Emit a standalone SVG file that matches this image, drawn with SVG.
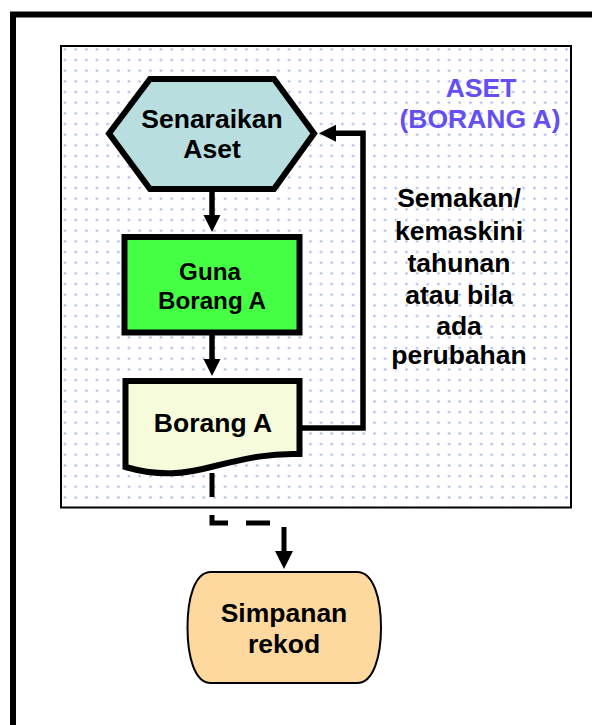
<svg xmlns="http://www.w3.org/2000/svg" width="592" height="725" viewBox="0 0 592 725">
  <style>
    .t { font-family: "Liberation Sans", Arial, sans-serif; font-weight: bold; text-anchor: middle; fill: #000; }
    .big { font-size: 26.5px; }
    .mid { font-size: 24.2px; }
    .blue { fill: #664ff0; }
    .node { stroke: #000; stroke-width: 6; stroke-linejoin: miter; }
    .conn { fill: none; stroke: #000; stroke-width: 5.5; }
    .dash { stroke-dasharray: 24 18; stroke-width: 5; }
  </style>
  <defs>
    <pattern id="dots" patternUnits="userSpaceOnUse" x="59.67" y="44" width="10.67" height="10.67">
      <circle cx="5.33" cy="5.33" r="1.25" fill="#a9b5e8"/>
    </pattern>
    <marker id="arr" markerUnits="userSpaceOnUse" markerWidth="20" markerHeight="20" refX="1" refY="8.5" orient="auto">
      <path d="M0,0 L17,8.5 L0,17 Z" fill="#000"/>
    </marker>
    <marker id="arr2" markerUnits="userSpaceOnUse" markerWidth="20" markerHeight="20" refX="1" refY="9" orient="auto">
      <path d="M0,0 L18,9 L0,18 Z" fill="#000"/>
    </marker>
  </defs>

  <rect width="592" height="725" fill="#fff"/>
  <!-- outer frame -->
  <path d="M13,725 V14.5 H592" fill="none" stroke="#000" stroke-width="6"/>

  <!-- inner panel -->
  <g id="panel">
    <rect x="61" y="46" width="510" height="461.5" fill="#fff"/>
    <rect x="61" y="46" width="510" height="461.5" fill="url(#dots)" stroke="#000" stroke-width="2"/>
  </g>

  <g id="title">
    <text class="t big blue" x="481" y="97">ASET</text>
    <text class="t big blue" x="480" y="128">(BORANG A)</text>
  </g>

  <g id="note">
    <text class="t big" x="459" y="207">Semakan/</text>
    <text class="t big" x="459" y="239.5">kemaskini</text>
    <text class="t big" x="459" y="271.5">tahunan</text>
    <text class="t big" x="459" y="303.5">atau bila</text>
    <text class="t big" x="459" y="335">ada</text>
    <text class="t big" x="459" y="364">perubahan</text>
  </g>

  <g id="connectors">
    <path class="conn" d="M212,192 V216" marker-end="url(#arr)"/>
    <path class="conn" d="M212,335 V360" marker-end="url(#arr)"/>
    <path class="conn" d="M302,428 H363 V133.3 H335" marker-end="url(#arr)"/>
    <path class="conn dash" d="M212,473 V523 H284 V552" marker-end="url(#arr2)"/>
  </g>

  <g id="senaraikan">
    <polygon class="node" points="109,133.5 150,79 274,79 314,133.5 274,189 150,189" fill="#b8dee0"/>
    <text class="t big" x="212" y="128">Senaraikan</text>
    <text class="t big" x="212" y="158">Aset</text>
  </g>

  <g id="guna">
    <rect class="node" x="124.5" y="237" width="175" height="95.5" fill="#44ff44"/>
    <text class="t mid" x="210" y="280">Guna</text>
    <text class="t mid" x="212" y="309">Borang A</text>
  </g>

  <g id="borang">
    <path class="node" d="M125.5,381 H299.5 V454 C270,453 248,458 215,466 C185,474 160,477 125.5,467 Z" fill="#f6fbdc"/>
    <text class="t big" x="213" y="431.5">Borang A</text>
  </g>

  <g id="simpanan">
    <path d="M211,572 H357 C374,572 381,600 381,627.5 C381,655 374,683 357,683 H211 C194,683 187.5,655 187.5,627.5 C187.5,600 194,572 211,572 Z" fill="#fdd9a0" stroke="#000" stroke-width="2"/>
    <text class="t big" x="284" y="621.5">Simpanan</text>
    <text class="t big" x="284" y="652.5">rekod</text>
  </g>
</svg>
